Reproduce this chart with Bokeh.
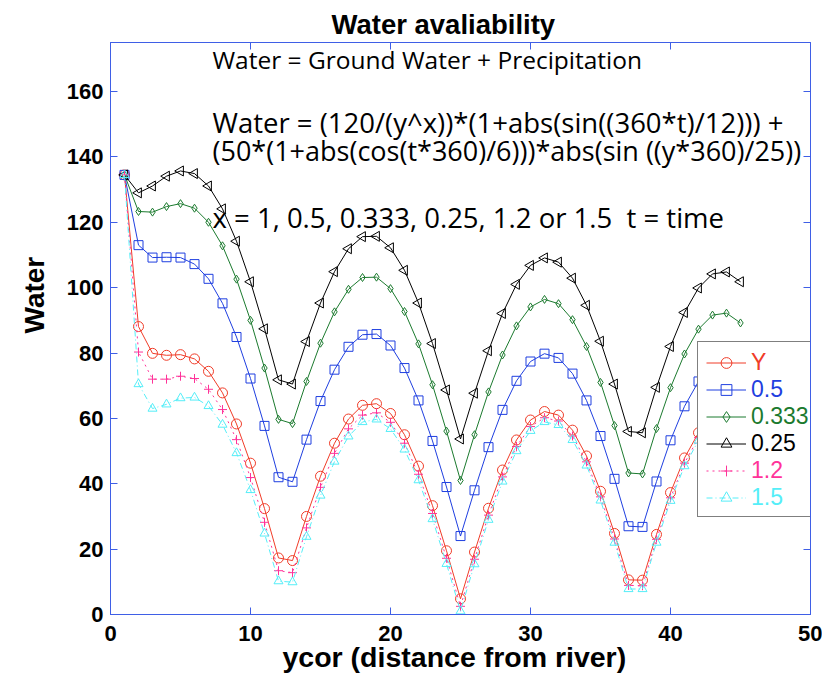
import math
from bokeh.plotting import figure
from bokeh.models import Label, Legend, LegendItem, LinearAxis, FixedTicker, Title
from bokeh.embed import file_html
from bokeh.resources import INLINE

# ---------------- data ----------------
ycor = [1, 2, 3, 4, 5, 6, 7, 8, 9, 10, 11, 12, 13, 14, 15, 16, 17, 18, 19, 20,
        21, 22, 23, 24, 25, 26, 27, 28, 29, 30, 31, 32, 33, 34, 35, 36, 37, 38,
        39, 40, 41, 42, 43, 44, 45]

water_x1 = [134.5, 88.1, 79.9, 79.3, 79.5, 78.2, 74.4, 67.8, 58.3, 46.3,
            32.4, 17.3, 16.5, 30.0, 42.3, 52.4, 59.8, 64.0, 64.5, 61.5,
            55.0, 45.4, 33.3, 19.5, 4.8, 19.1, 32.5, 44.2, 53.4, 59.5,
            62.1, 61.0, 56.4, 48.5, 37.7, 24.8, 10.6, 10.5, 24.5, 37.3,
            47.9, 55.6, 60.1, 61.0, 58.1]
water_x05 = [134.5, 113.0, 109.2, 109.3, 109.2, 107.2, 102.7, 95.2, 84.9, 72.2,
             57.7, 42.0, 40.6, 53.5, 65.3, 74.9, 81.9, 85.6, 85.8, 82.3,
             75.4, 65.5, 53.1, 39.0, 24.0, 38.0, 51.2, 62.6, 71.5, 77.4,
             79.8, 78.5, 73.7, 65.5, 54.6, 41.5, 27.0, 26.8, 40.7, 53.3,
             63.7, 71.3, 75.6, 76.3, 73.4]
water_x0333 = [134.5, 123.3, 123.1, 124.8, 125.7, 124.3, 120.0, 112.8, 102.6, 90.0,
               75.4, 59.7, 58.4, 71.3, 83.0, 92.6, 99.5, 103.1, 103.2, 99.7,
               92.7, 82.8, 70.3, 56.1, 41.0, 55.0, 68.1, 79.4, 88.3, 94.1,
               96.4, 95.1, 90.2, 82.0, 71.0, 57.8, 43.3, 43.0, 56.9, 69.4,
               79.7, 87.3, 91.6, 92.2, 89.2]
water_x025 = [134.5, 129.0, 131.1, 134.1, 135.7, 134.9, 131.1, 124.1, 114.2, 101.8,
              87.4, 71.8, 70.5, 83.5, 95.3, 104.9, 111.9, 115.6, 115.7, 112.2,
              105.3, 95.3, 82.9, 68.7, 53.7, 67.7, 80.7, 92.1, 101.0, 106.8,
              109.1, 107.8, 102.9, 94.6, 83.6, 70.5, 56.0, 55.6, 69.5, 82.0,
              92.4, 99.9, 104.2, 104.8, 101.8]
water_x12 = [134.5, 80.3, 72.0, 72.0, 72.9, 72.2, 68.9, 62.7, 53.5, 41.9,
             28.2, 13.4, 12.8, 26.5, 38.9, 49.3, 56.8, 61.0, 61.7, 58.8,
             52.4, 42.9, 30.9, 17.2, 2.5, 16.9, 30.4, 42.1, 51.4, 57.5,
             60.2, 59.2, 54.6, 46.7, 36.0, 23.1, 8.9, 8.8, 23.0, 35.7,
             46.3, 54.1, 58.6, 59.5, 56.7]
water_x15 = [134.5, 70.5, 63.0, 64.3, 66.2, 66.4, 63.8, 58.1, 49.4, 38.1,
             24.8, 10.2, 9.9, 23.8, 36.4, 46.8, 54.5, 58.9, 59.7, 56.8,
             50.5, 41.1, 29.2, 15.5, 1.0, 15.4, 29.0, 40.7, 50.0, 56.2,
             58.9, 58.0, 53.4, 45.6, 34.9, 22.0, 7.8, 7.8, 22.0, 34.8,
             45.4, 53.2, 57.7, 58.6, 55.9]

series_names = ["Y", "0.5", "0.333", "0.25", "1.2", "1.5"]
x_ticks = [0, 10, 20, 30, 40, 50]
y_ticks = [0, 20, 40, 60, 80, 100, 120, 140, 160]

title_text = "Water avaliability"
x_label = "ycor (distance from river)"
y_label = "Water"
note_lines = [
    "Water = Ground Water + Precipitation",
    "Water = (120/(y^x))*(1+abs(sin((360*t)/12))) +",
    "(50*(1+abs(cos(t*360)/6)))*abs(sin ((y*360)/25))",
    "x = 1, 0.5, 0.333, 0.25, 1.2 or 1.5 \u00a0t = time",
]

# ---------------- styles ----------------
AXC = "#3f5fe6"
colors = ["#f03c28", "#1f3fe0", "#1b7a2e", "#000000", "#ff3399", "#55eef8"]
markers = ["circle", "square", "diamond", "triangle", "cross", "triangle"]
angles = [0, 0, 0, math.pi / 2, 0, 0]
msizes = [10, 9, 8, 10, 9, 9]
dashes = ["solid", "solid", "solid", "solid", "2 4", "6 3 1 3"]
series = [water_x1, water_x05, water_x0333, water_x025, water_x12, water_x15]

# reference-pixel -> data helpers (frame: x 110..810, y 42.3..614.3)
def dx(px):
    return (px - 110.0) / 14.0

def dy(py):
    return (614.3 - py) / (572.0 / 175.0)

p = figure(width=822, height=674, x_range=(0, 50), y_range=(0, 175),
           output_backend="svg", toolbar_location=None,
           min_border_left=110, min_border_right=12,
           min_border_top=42, min_border_bottom=60)
p.xgrid.visible = False
p.ygrid.visible = False
p.outline_line_color = AXC
p.outline_line_width = 1
p.background_fill_color = "white"

for ax, ticks in ((p.xaxis[0], x_ticks), (p.yaxis[0], y_ticks)):
    ax.ticker = FixedTicker(ticks=ticks)
    ax.major_tick_in = 7
    ax.major_tick_out = 0
    ax.minor_tick_in = 0
    ax.minor_tick_out = 0
    ax.axis_line_color = AXC
    ax.major_tick_line_color = AXC
    ax.major_label_text_font = "Liberation Sans"
    ax.major_label_text_font_style = "bold"
    ax.major_label_text_font_size = "22px"
    ax.major_label_text_color = "black"
p.yaxis[0].major_label_standoff = 7
p.xaxis[0].major_label_standoff = 11

for side, ticks in (("above", x_ticks), ("right", y_ticks)):
    ax = LinearAxis(ticker=FixedTicker(ticks=ticks), major_tick_in=7, major_tick_out=0,
                    minor_tick_in=0, minor_tick_out=0, axis_line_color=AXC,
                    major_tick_line_color=AXC, major_label_text_font_size="1px",
                    major_label_overrides={t: "" for t in ticks},
                    major_label_standoff=0)
    p.add_layout(ax, side)

line_renderers = []
for name, vals, c, m, a, s, d in zip(series_names, series, colors, markers, angles, msizes, dashes):
    rl = p.line(ycor, vals, line_color=c, line_width=1, line_dash=d)
    rs = p.scatter(ycor, vals, marker=m, angle=a, size=s, line_color=c,
                   fill_color=None, line_width=1)
    line_renderers.append([rl, rs])

# legend: an opaque framed box, then one transparent legend per entry so
# each entry's text can take its series colour
leg_common = dict(label_text_font="Liberation Sans", label_text_font_size="23px",
                  glyph_height=27, label_height=27, label_standoff=5,
                  padding=6, spacing=0, margin=0)
dummy = p.line([], [], line_alpha=0)
box = Legend(items=[LegendItem(label=" ", renderers=[dummy]) for n in series_names],
             location=(587, 97), border_line_color="black", border_line_width=1,
             background_fill_color="white", background_fill_alpha=1,
             label_text_alpha=0, glyph_width=96, **leg_common)
p.add_layout(box)
for i, (name, c, rr) in enumerate(zip(series_names, colors, line_renderers)):
    lg = Legend(items=[LegendItem(label=name, renderers=rr)],
                location=(590, 97 + 27 * (5 - i)), border_line_alpha=0,
                background_fill_alpha=0, label_text_color=c, glyph_width=40,
                **leg_common)
    p.add_layout(lg)

# formula notes
note_sizes = ["24.5px", "27.5px", "27px", "27.5px"]
note_baselines = [59, 122, 150, 217]
for t, fs, b in zip(note_lines, note_sizes, note_baselines):
    p.add_layout(Label(x=dx(212), y=dy(b), text=t, text_color="black",
                       text_font="Open Sans", text_font_size=fs,
                       text_align="left", text_baseline="alphabetic"))

# title and axis labels (as titles so they may sit outside the frame)
p.add_layout(Title(text=title_text, align="left", offset=221, standoff=6,
                   text_font="Liberation Sans", text_font_style="bold",
                   text_font_size="27.5px", text_color="black"), "above")
p.add_layout(Title(text=x_label, align="left", offset=172, standoff=-6,
                   vertical_align="top",
                   text_font="Liberation Sans", text_font_style="bold",
                   text_font_size="28.5px", text_color="black"), "below")
p.add_layout(Title(text=y_label, align="left", offset=281, standoff=28,
                   text_font="Liberation Sans", text_font_style="bold",
                   text_font_size="28px", text_color="black"), "left")

open("out.html", "w").write(file_html(p, INLINE))
